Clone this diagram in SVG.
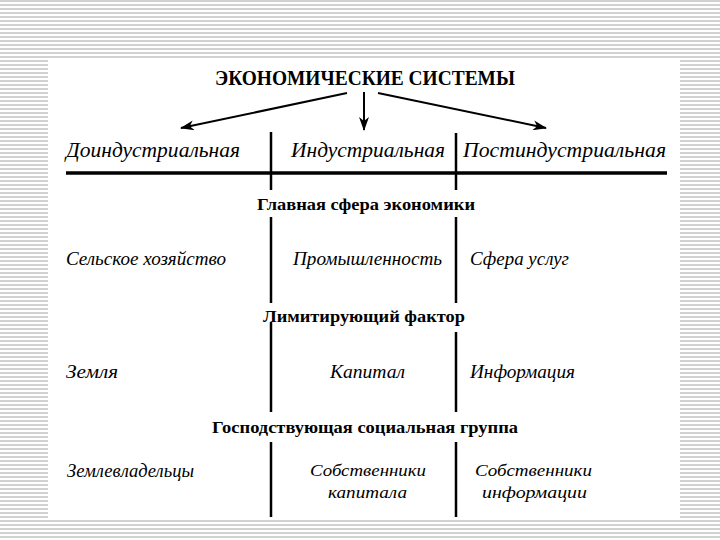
<svg xmlns="http://www.w3.org/2000/svg" width="720" height="540" viewBox="0 0 720 540">
<defs>
<pattern id="stripes" width="8" height="4" patternUnits="userSpaceOnUse">
<rect width="8" height="4" fill="#ffffff"/>
<rect y="0" width="8" height="2" fill="#d2d2d2"/>
</pattern>
<marker id="ah" viewBox="0 0 14 10" refX="13" refY="5" markerWidth="14" markerHeight="10" markerUnits="userSpaceOnUse" orient="auto">
<path d="M0,0 L14,5 L0,10 L4,5 Z" fill="#000"/>
</marker>
<style>
.title{font-family:"Liberation Serif",serif;font-weight:bold;font-size:21px;fill:#000}
.hdr{font-family:"Liberation Serif",serif;font-style:italic;font-size:21px;fill:#000}
.sec{font-family:"Liberation Serif",serif;font-weight:bold;font-size:17px;fill:#000}
.cell{font-family:"Liberation Serif",serif;font-style:italic;font-size:18px;fill:#000}
.cell2{font-family:"Liberation Serif",serif;font-style:italic;font-size:17px;fill:#000}
.sep{stroke:#000;stroke-width:2.5;fill:none}
.arr{stroke:#000;stroke-width:2;fill:none;marker-end:url(#ah)}
</style>
</defs>
<rect width="720" height="540" fill="url(#stripes)"/>
<rect x="48" y="60" width="632" height="459" fill="#ffffff"/>

<g id="title"><text class="title" x="215" y="85" textLength="300" lengthAdjust="spacingAndGlyphs">ЭКОНОМИЧЕСКИЕ СИСТЕМЫ</text></g>

<g id="connectors">
<line class="arr" x1="347" y1="93" x2="181" y2="128"/>
<line class="arr" x1="364" y1="92" x2="364" y2="130"/>
<line class="arr" x1="378" y1="93" x2="546" y2="128"/>
</g>

<g id="header-pre"><text class="hdr" x="66" y="157" textLength="174" lengthAdjust="spacingAndGlyphs">Доиндустриальная</text></g>
<g id="header-ind"><text class="hdr" x="291" y="157" textLength="154" lengthAdjust="spacingAndGlyphs">Индустриальная</text></g>
<g id="header-post"><text class="hdr" x="463" y="157" textLength="203" lengthAdjust="spacingAndGlyphs">Постиндустриальная</text></g>

<g id="grid-lines">
<line x1="66" y1="173" x2="667" y2="173" stroke="#000" stroke-width="3.5"/>
<line class="sep" x1="271" y1="132" x2="271" y2="190"/>
<line class="sep" x1="271" y1="217" x2="271" y2="303"/>
<line class="sep" x1="271" y1="322" x2="271" y2="412"/>
<line class="sep" x1="271" y1="442" x2="271" y2="517"/>
<line class="sep" x1="456" y1="133" x2="456" y2="190"/>
<line class="sep" x1="456" y1="217" x2="456" y2="303"/>
<line class="sep" x1="456" y1="332" x2="456" y2="412"/>
<line class="sep" x1="456" y1="442" x2="456" y2="517"/>
</g>

<g id="section-main"><text class="sec" x="257" y="210" textLength="218" lengthAdjust="spacingAndGlyphs">Главная сфера экономики</text></g>
<g id="row1-pre"><text class="cell" x="66" y="265" textLength="160" lengthAdjust="spacingAndGlyphs">Сельское хозяйство</text></g>
<g id="row1-ind"><text class="cell" x="293" y="265" textLength="149" lengthAdjust="spacingAndGlyphs">Промышленность</text></g>
<g id="row1-post"><text class="cell" x="470" y="265" textLength="99" lengthAdjust="spacingAndGlyphs">Сфера услуг</text></g>

<g id="section-factor"><text class="sec" x="263" y="322" textLength="202" lengthAdjust="spacingAndGlyphs">Лимитирующий фактор</text></g>
<g id="row2-pre"><text class="cell" x="66" y="378" textLength="52" lengthAdjust="spacingAndGlyphs">Земля</text></g>
<g id="row2-ind"><text class="cell" x="330" y="378" textLength="75" lengthAdjust="spacingAndGlyphs">Капитал</text></g>
<g id="row2-post"><text class="cell" x="470" y="378" textLength="105" lengthAdjust="spacingAndGlyphs">Информация</text></g>

<g id="section-group"><text class="sec" x="212" y="433" textLength="306" lengthAdjust="spacingAndGlyphs">Господствующая социальная группа</text></g>
<g id="row3-pre"><text class="cell" x="67" y="477" textLength="127" lengthAdjust="spacingAndGlyphs">Землевладельцы</text></g>
<g id="row3-ind">
<text class="cell2" x="310" y="476" textLength="116" lengthAdjust="spacingAndGlyphs">Собственники</text>
<text class="cell2" x="328" y="498" textLength="79" lengthAdjust="spacingAndGlyphs">капитала</text>
</g>
<g id="row3-post">
<text class="cell2" x="475" y="476" textLength="117" lengthAdjust="spacingAndGlyphs">Собственники</text>
<text class="cell2" x="482" y="498" textLength="105" lengthAdjust="spacingAndGlyphs">информации</text>
</g>
</svg>
